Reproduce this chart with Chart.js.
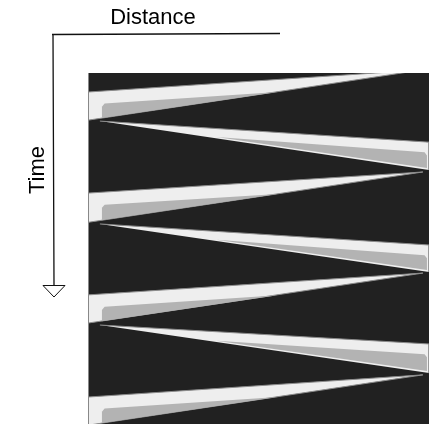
<!DOCTYPE html>
<html>
<head>
<meta charset="utf-8">
<script src="https://cdn.jsdelivr.net/npm/chart.js@4/dist/chart.umd.min.js"></script>
<style>
  html, body { margin: 0; padding: 0; background: #fff; }
  #wrap { width: 429px; height: 424px; position: relative; }
</style>
</head>
<body>
<div id="wrap"><canvas id="myChart"></canvas></div>
<script>
// distance 0..100 across the dark panel, time 0..100 down the panel

// forward pulses: wide at distance 0, narrowing to a tip at the far side
var fwdTop = [5.4, 34.2, 63.2, 92.3];
var fwdBottom = [13.4, 42.5, 71.2, 100.3];
var fwdTipTime = [-0.9, 28.2, 57.0, 86.0];
var fwdTipDist = 98.2;
// grey core inside each forward pulse
var fwdCoreTop = [8.7, 37.5, 66.6, 95.6];
var fwdCoreBottom = [12.8, 41.9, 70.7, 99.7];
var fwdCoreTipTime = [5.4, 34.5, 63.3, 92.3];
var fwdCoreStart = 3.8;
var fwdCoreTipDist = 55.5;

// reflected pulses: tip near distance 0, widening towards the far side
var backTipTime = [13.7, 43.0, 71.8];
var backTipDist = 3.2;
var backTop = [19.7, 49.0, 77.2];
var backBottom = [27.6, 56.7, 85.5];
// grey core inside each reflected pulse
var backCoreTop = [22.6, 51.9, 80.1];
var backCoreBottom = [27.1, 56.1, 84.9];
var backCoreTipTime = [18.2, 47.5, 76.3];
var backCoreTipDist = 37.5;
var backCoreEnd = 99.4;

var WHITE = '#eeeeee';
var GREY = '#b3b3b3';
var EDGE = '#8c8c8c';

function shape(points, color, order, edge) {
    return {
        data: points,
        showLine: true,
        fill: 'shape',
        backgroundColor: color,
        borderColor: edge || color,
        borderWidth: edge ? 1 : 0,
        borderJoinStyle: 'round',
        pointRadius: 0,
        order: order
    };
}

var datasets = [];
for (var i = 0; i < fwdTop.length; i++) {
    datasets.push(shape([
        {x: 0, y: fwdTop[i]},
        {x: fwdTipDist, y: fwdTipTime[i]},
        {x: 0, y: fwdBottom[i]}
    ], WHITE, 1, EDGE));
    datasets.push(shape([
        {x: fwdCoreStart, y: fwdCoreBottom[i]},
        {x: fwdCoreStart, y: fwdCoreTop[i] + 0.9},
        {x: fwdCoreStart + 0.8, y: fwdCoreTop[i]},
        {x: fwdCoreTipDist, y: fwdCoreTipTime[i]}
    ], GREY, 0));
}
for (var j = 0; j < backTop.length; j++) {
    datasets.push(shape([
        {x: backTipDist, y: backTipTime[j]},
        {x: 100, y: backTop[j]},
        {x: 100, y: backBottom[j]}
    ], WHITE, 1, EDGE));
    datasets.push(shape([
        {x: backCoreTipDist, y: backCoreTipTime[j]},
        {x: backCoreEnd - 0.7, y: backCoreTop[j]},
        {x: backCoreEnd, y: backCoreTop[j] + 0.9},
        {x: backCoreEnd, y: backCoreBottom[j]}
    ], GREY, 0));
}

// dark panel behind the pulses
var panel = {
    id: 'panel',
    beforeDatasetsDraw: function (chart) {
        var a = chart.chartArea, c = chart.ctx;
        c.save();
        c.fillStyle = '#212121';
        c.fillRect(a.left, a.top, a.right - a.left, a.bottom - a.top);
        c.fillStyle = '#888';
        c.fillRect(a.left - 1, a.top, 1, a.bottom - a.top);
        c.restore();
    }
};

// "Distance" / "Time" axis sketch in the top-left corner
var axesSketch = {
    id: 'axesSketch',
    afterDraw: function (chart) {
        var c = chart.ctx;
        c.save();
        c.strokeStyle = '#111';
        c.lineWidth = 1.3;
        c.beginPath();
        c.moveTo(52, 34.5);
        c.lineTo(280, 33.5);
        c.moveTo(53, 34.5);
        c.lineTo(54, 285);
        c.stroke();
        c.lineWidth = 1;
        c.beginPath();
        c.moveTo(43, 285.5);
        c.lineTo(65, 285.5);
        c.lineTo(54, 297);
        c.closePath();
        c.stroke();

        c.fillStyle = '#000';
        c.font = '22px "Liberation Sans", Arial, sans-serif';
        c.textAlign = 'center';
        c.textBaseline = 'alphabetic';
        c.fillText('Distance', 153, 24);
        c.translate(44, 170);
        c.rotate(-Math.PI / 2);
        c.fillText('Time', 0, 0);
        c.restore();
    }
};

var ctx = document.getElementById('myChart');
var myChart = new Chart(ctx, {
    type: 'scatter',
    data: {datasets: datasets},
    options: {
        responsive: true,
        maintainAspectRatio: false,
        animation: false,
        layout: {
            padding: {left: 89, top: 73, right: 0, bottom: 0}
        },
        plugins: {
            legend: {display: false},
            tooltip: {enabled: false}
        },
        scales: {
            x: {min: 0, max: 100, display: false},
            y: {min: 0, max: 100, reverse: true, display: false}
        }
    },
    plugins: [panel, axesSketch]
});
</script>
</body>
</html>
